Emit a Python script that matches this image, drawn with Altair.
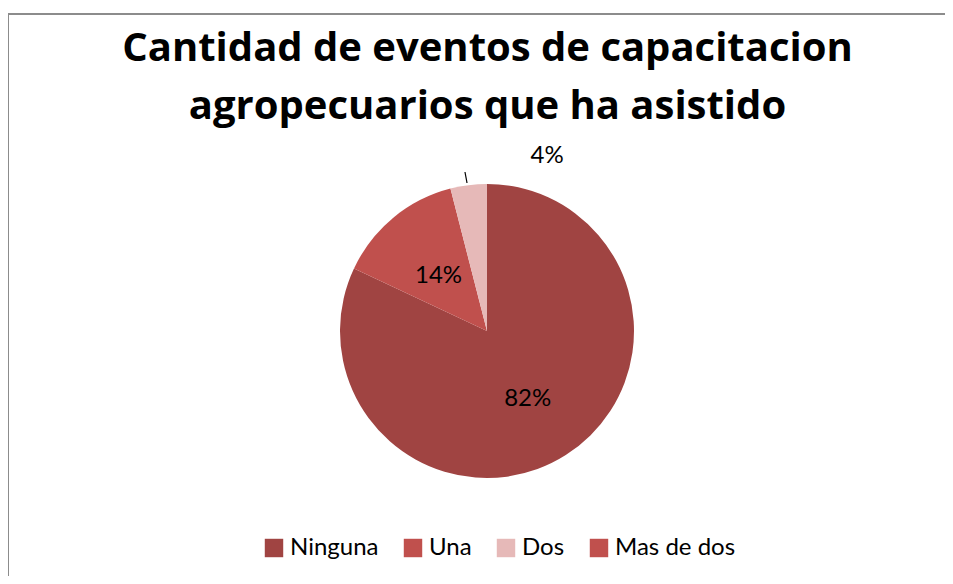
import altair as alt
import pandas as pd

categories = ["Ninguna", "Una", "Dos", "Mas de dos"]
values = [82, 14, 4, 0]
colors = ["#A04442", "#C0504D", "#E6B9B8", "#C0504D"]
title_lines = ["Cantidad de eventos de capacitacion", "agropecuarios que ha asistido"]

df = pd.DataFrame({"cat": categories, "val": values, "ord": range(len(categories))})
df["label"] = df["val"].astype(str) + "%"

FONT = "Lato"
CX, CY, R = 479, 203, 147

base = alt.Chart(df).encode(
    theta=alt.Theta("val:Q", stack=True),
    order=alt.Order("ord:Q"),
)

pie = base.mark_arc(stroke="white", strokeWidth=0).encode(
    color=alt.Color(
        "cat:N",
        scale=alt.Scale(domain=categories, range=colors),
        sort=categories,
        legend=alt.Legend(
            title=None,
            orient="none",
            legendX=254,
            legendY=408,
            direction="horizontal",
            columns=4,
            symbolType="square",
            symbolSize=340,
            symbolStrokeWidth=0,
            labelFont=FONT,
            labelFontSize=24,
            labelColor="#000000",
            columnPadding=22,
            labelOffset=4,
        ),
    ),
    x=alt.value(CX),
    y=alt.value(CY),
    radius=alt.value(R),
)

inner = base.mark_text(font=FONT, fontSize=24, color="#000000", dy=4).encode(
    text="label:N",
    x=alt.value(CX),
    y=alt.value(CY),
    radius=alt.value(76),
    opacity=alt.condition("datum.cat == 'Ninguna' || datum.cat == 'Una'", alt.value(1), alt.value(0)),
)

outer = base.mark_text(font=FONT, fontSize=24, color="#000000", dx=84, dy=14).encode(
    text="label:N",
    x=alt.value(CX),
    y=alt.value(CY),
    radius=alt.value(190),
    opacity=alt.condition("datum.cat == 'Dos'", alt.value(1), alt.value(0)),
)

leader = alt.Chart(pd.DataFrame({"k": [0]})).mark_rule(color="#000000", strokeWidth=1.2).encode(
    x=alt.value(CX - 22), x2=alt.value(CX - 20), y=alt.value(CY - 159), y2=alt.value(CY - 148)
)

frame = alt.Chart(pd.DataFrame({"k": [0]})).mark_rule(color="#8c8c8c", strokeWidth=2).encode(
    x=alt.value(0), x2=alt.value(945), y=alt.value(-114), y2=alt.value(-114)
)
frame_left = alt.Chart(pd.DataFrame({"k": [0]})).mark_rule(color="#8c8c8c", strokeWidth=2).encode(
    x=alt.value(0), x2=alt.value(0), y=alt.value(-114), y2=alt.value(460)
)

chart = alt.layer(frame, frame_left, pie, inner, outer, leader).properties(
    width=937,
    height=448,
    padding={"top": 120, "left": 0, "right": 0, "bottom": 0},
    autosize=alt.AutoSizeParams(type="none"),
    title=alt.TitleParams(
        text=title_lines,
        font="Open Sans",
        fontSize=40,
        fontWeight="bold",
        color="#000000",
        anchor="middle",
        frame="group",
        lineHeight=58,
        offset=14,
        dy=128,
        dx=11,
    ),
).configure_view(stroke=None)

chart.save("out.html", embed_options={"renderer": "svg", "actions": False})
